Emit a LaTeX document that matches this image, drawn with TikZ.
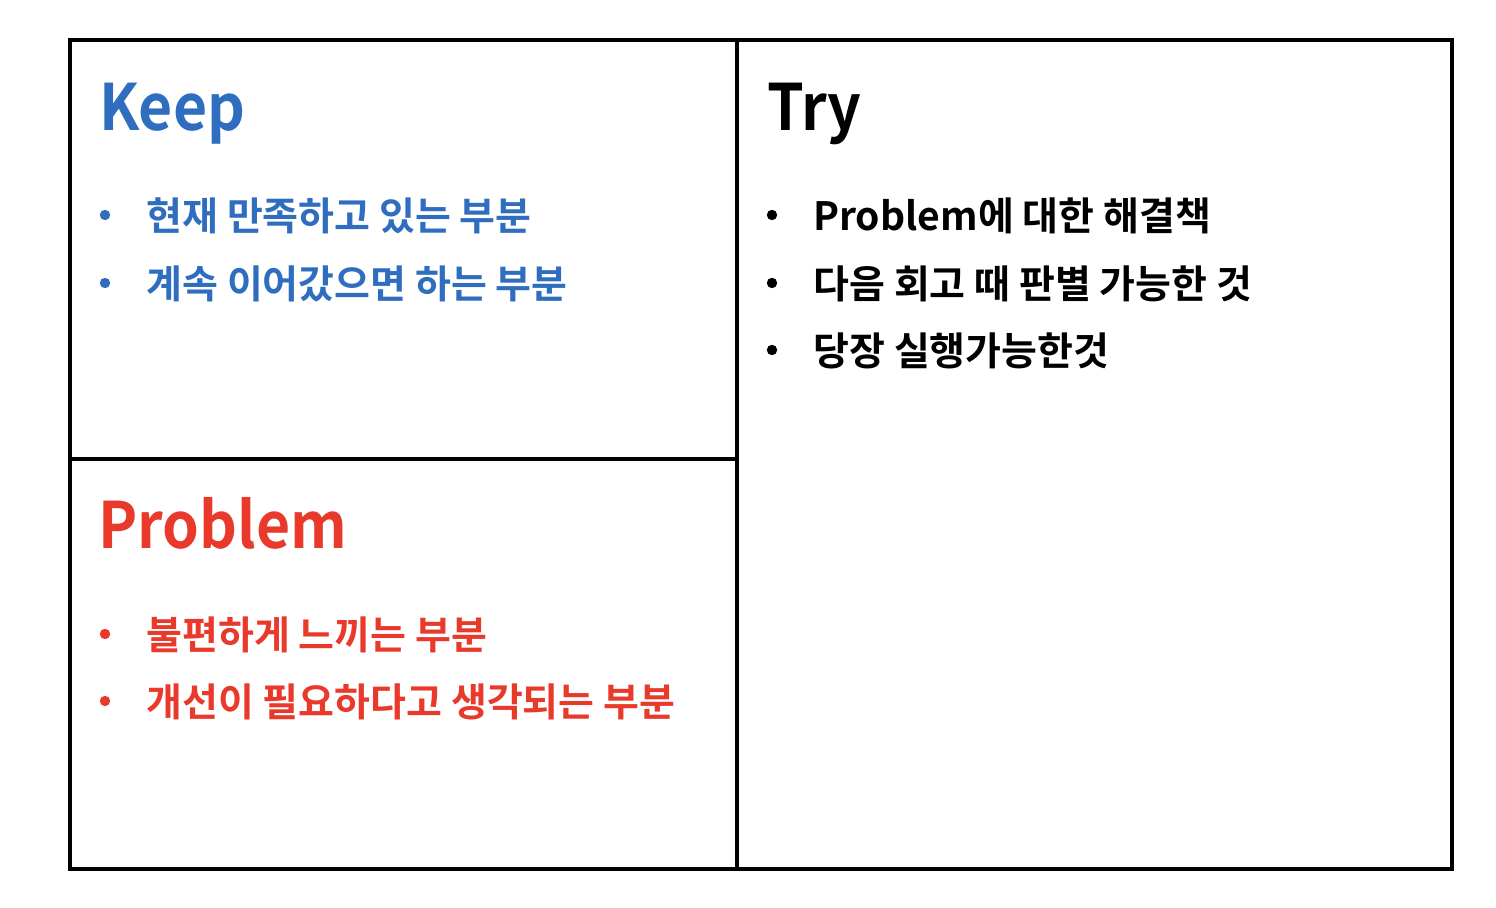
\documentclass[tikz,border=0pt]{standalone}
\usepackage{fontspec}
\newfontfamily\titlefont[FakeStretch=0.92]{Noto Sans CJK KR Bold}
\newfontfamily\itemfont{Noto Sans CJK KR Bold}
\definecolor{keepblue}{HTML}{2F6EBF}
\definecolor{probred}{HTML}{E8392A}
\tikzset{
  frame/.style={line width=2.4pt, draw=black},
  title/.style={anchor=base west, inner sep=0pt, font=\titlefont\fontsize{32}{36}\selectfont},
  itemtext/.style={anchor=base west, inner sep=0pt, font=\itemfont\fontsize{19.5}{22}\selectfont},
  dot/.style={circle, fill, inner sep=0pt, minimum size=5.2pt}
}
\begin{document}
\begin{tikzpicture}[x=0.5pt,y=-0.5pt]
\useasboundingbox (0,0) rectangle (1496,908);
\fill[white] (0,0) rectangle (1496,908);
% frame
\coordinate (tl) at (70,40);
\coordinate (br) at (1452,869);
\coordinate (vt) at (737,40);
\coordinate (vb) at (737,869);
\coordinate (hl) at (70,459);
\coordinate (hr) at (737,459);
\draw[frame] (tl) rectangle (br);
\draw[frame] (vt) -- (vb);
\draw[frame] (hl) -- (hr);
% Keep
\node[title, text=keepblue] (keep) at (99,131) {Keep};
\node[dot, fill=keepblue] (kd1) at (105,215) {};
\node[itemtext, text=keepblue] (k1) at (146,231) {현재 만족하고 있는 부분};
\node[dot, fill=keepblue] (kd2) at (105,283) {};
\node[itemtext, text=keepblue] (k2) at (146,299) {계속 이어갔으면 하는 부분};
% Problem
\node[title, text=probred] (prob) at (98,549) {Problem};
\node[dot, fill=probred] (pd1) at (105,634) {};
\node[itemtext, text=probred] (p1) at (146,650) {불편하게 느끼는 부분};
\node[dot, fill=probred] (pd2) at (105,701) {};
\node[itemtext, text=probred] (p2) at (146,717) {개선이 필요하다고 생각되는 부분};
% Try
\node[title, text=black] (try) at (767,131) {Try};
\node[dot, fill=black] (td1) at (772,215) {};
\node[itemtext, text=black] (t1) at (813,231) {Problem에 대한 해결책};
\node[dot, fill=black] (td2) at (772,283) {};
\node[itemtext, text=black] (t2) at (813,299) {다음 회고 때 판별 가능한 것};
\node[dot, fill=black] (td3) at (772,350) {};
\node[itemtext, text=black] (t3) at (813,366) {당장 실행가능한것};
\end{tikzpicture}
\end{document}
